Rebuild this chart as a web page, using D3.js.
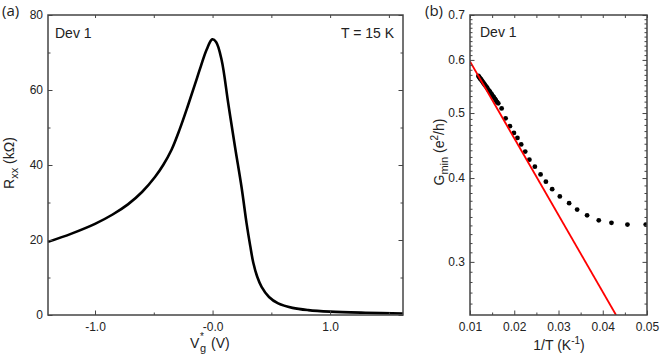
<!DOCTYPE html>
<html>
<head>
<meta charset="utf-8">
<script src="https://cdn.jsdelivr.net/npm/d3@7"></script>
<style>
  body { margin: 0; background: #fff; }
  svg { display: block; font-family: "Liberation Sans", Arial, sans-serif; }
  .tick text { fill: #222; font-size: 12px; }
  .tick line { stroke: #444; }
</style>
</head>
<body>
<div id="svganchor"></div>
<script>
let width = 664;
let height = 362;

// panel (a): Rxx vs Vg*
let vg  = [-1.40, -1.20, -1.00, -0.85, -0.72, -0.60, -0.49, -0.42, -0.35, -0.28, -0.21, -0.15, -0.10, -0.05, -0.003, 0.03, 0.077, 0.133, 0.19, 0.247, 0.289, 0.32, 0.346, 0.38, 0.417, 0.48, 0.558, 0.68, 0.814, 1.0, 1.3, 1.62];
let rxx = [19.5, 21.7, 24.3, 26.8, 29.5, 32.8, 36.8, 40.0, 44.0, 49.5, 55.8, 61.5, 66.3, 70.8, 73.5, 72.8, 68.0, 56.5, 45.0, 34.0, 24.5, 18.5, 14.0, 10.2, 7.5, 4.8, 3.1, 1.9, 1.3, 0.9, 0.6, 0.4];
let xTicksA = [-1, 0, 1];
let xTickLabelsA = ["-1.0", "-0.0", "1.0"];
let xMinorA = [-0.5, 0.5, 1.5];
let yTicksA = [0, 20, 40, 60, 80];
let yMinorA = [10, 30, 50, 70];

// panel (b): Gmin vs 1/T
let invT = [0.01190, 0.01205, 0.01220, 0.01235, 0.01250, 0.01266, 0.01282, 0.01299, 0.01316, 0.01333, 0.01351, 0.01370,
            0.01389, 0.01408, 0.01429, 0.01449, 0.01471, 0.01493, 0.01515, 0.01538, 0.01563, 0.01587, 0.01613, 0.01639,
            0.01715, 0.01805, 0.01902, 0.01993, 0.02072, 0.02157, 0.02248, 0.02342, 0.02466, 0.02595, 0.02715, 0.02857,
            0.03030, 0.03240, 0.03421, 0.03646, 0.03910, 0.04197, 0.04558, 0.04971];
let gmin = [0.568, 0.566, 0.564, 0.562, 0.561, 0.559, 0.557, 0.555, 0.553, 0.551, 0.549, 0.547,
            0.545, 0.542, 0.540, 0.538, 0.535, 0.533, 0.530, 0.528, 0.525, 0.522, 0.519, 0.517,
            0.508, 0.491, 0.478, 0.467, 0.459, 0.449, 0.438, 0.426, 0.416, 0.405, 0.395, 0.385,
            0.3755, 0.367, 0.359, 0.352, 0.346, 0.343, 0.341, 0.341];
let fitInvT = [0.010, 0.0430];
let fitG = [0.597, 0.250];
let xTicksB = [0.01, 0.02, 0.03, 0.04, 0.05];
let xMinorB = [0.015, 0.025, 0.035, 0.045];
let yTicksB = [0.3, 0.4, 0.5, 0.6, 0.7];

let svg = d3.select("#svganchor")
    .append("svg")
    .attr("width", width)
    .attr("height", height);

// draws inward ticks on all four sides plus the frame
function frame(g, x, y, xMaj, xMin, yMaj, yMin, xFmt, yFmt) {
    let [x0, x1] = x.range();
    let [y0, y1] = y.range();

    g.append("g").attr("transform", `translate(0,${y0})`)
        .call(d3.axisBottom(x).tickValues(xMaj).tickSize(-4.5).tickPadding(7).tickFormat(xFmt))
        .call(a => a.select(".domain").remove());
    g.append("g").attr("transform", `translate(0,${y0})`)
        .call(d3.axisBottom(x).tickValues(xMin).tickSize(-2.5).tickFormat(""))
        .call(a => a.select(".domain").remove());
    g.append("g").attr("transform", `translate(0,${y1})`)
        .call(d3.axisTop(x).tickValues(xMaj.concat(xMin)).tickSize(-3).tickFormat(""))
        .call(a => a.select(".domain").remove());

    g.append("g").attr("transform", `translate(${x0},0)`)
        .call(d3.axisLeft(y).tickValues(yMaj).tickSize(-4.5).tickPadding(5).tickFormat(yFmt))
        .call(a => a.select(".domain").remove());
    g.append("g").attr("transform", `translate(${x0},0)`)
        .call(d3.axisLeft(y).tickValues(yMin).tickSize(-2.5).tickFormat(""))
        .call(a => a.select(".domain").remove());
    g.append("g").attr("transform", `translate(${x1},0)`)
        .call(d3.axisRight(y).tickValues(yMaj).tickSize(-4.5).tickFormat(""))
        .call(a => a.select(".domain").remove());
    g.append("g").attr("transform", `translate(${x1},0)`)
        .call(d3.axisRight(y).tickValues(yMin).tickSize(-2.5).tickFormat(""))
        .call(a => a.select(".domain").remove());

    g.append("rect")
        .attr("x", x0).attr("y", y1)
        .attr("width", x1 - x0).attr("height", y0 - y1)
        .attr("fill", "none")
        .attr("stroke", "#444")
        .attr("stroke-width", 1.5);
}

// ---------- panel (a)
let xA = d3.scaleLinear().domain([-1.4, 1.62]).range([48, 403]);
let yA = d3.scaleLinear().domain([0, 80]).range([315, 15]);
let gA = svg.append("g");

let lineA = d3.line()
    .x((d, i) => xA(vg[i]))
    .y(d => yA(d))
    .curve(d3.curveCatmullRom.alpha(0.5));

gA.append("path")
    .datum(rxx)
    .attr("d", lineA)
    .attr("fill", "none")
    .attr("stroke", "#000")
    .attr("stroke-width", 2.6);

frame(gA, xA, yA, xTicksA, xMinorA, yTicksA, yMinorA,
    (d, i) => xTickLabelsA[i], d3.format("d"));

gA.append("text").attr("x", 55).attr("y", 38).attr("font-size", 14).attr("fill", "#222").text("Dev 1");
gA.append("text").attr("x", 394).attr("y", 38).attr("font-size", 14).attr("fill", "#222")
    .attr("text-anchor", "end").text("T = 15 K");

// x title V*g (V)
let xtA = gA.append("text").attr("y", 348).attr("font-size", 14).attr("fill", "#222");
xtA.append("tspan").attr("x", 190).text("V");
xtA.append("tspan").attr("x", 200).attr("dy", -8).attr("font-size", 10).text("*");
xtA.append("tspan").attr("x", 200).attr("dy", 12).attr("font-size", 11).text("g");
xtA.append("tspan").attr("x", 211).attr("dy", -4).text("(V)");

// y title Rxx (kΩ)
let ytA = gA.append("text")
    .attr("transform", "translate(14,163) rotate(-90)")
    .attr("text-anchor", "middle")
    .attr("font-size", 14).attr("fill", "#222");
ytA.append("tspan").text("R");
ytA.append("tspan").attr("dy", 4).attr("font-size", 11).text("xx");
ytA.append("tspan").attr("dy", -4).text(" (kΩ)");

svg.append("text").attr("x", 2).attr("y", 16)
    .attr("font-family", "'Open Sans', sans-serif").attr("font-size", 15).attr("fill", "#222").text("(a)");

// ---------- panel (b)
let xB = d3.scaleLinear().domain([0.01, 0.05]).range([470, 647]);
let yB = d3.scaleLog().domain([0.25, 0.7]).range([315, 15]);
let yMinorB = d3.range(26, 70).map(d => d / 100).filter(d => Math.round(d * 100) % 10 !== 0);
let gB = svg.append("g");

svg.append("clipPath").attr("id", "clipB")
    .append("rect").attr("x", 470).attr("y", 15).attr("width", 177).attr("height", 300);

gB.append("g").attr("clip-path", "url(#clipB)")
    .selectAll("circle")
    .data(gmin)
    .join("circle")
    .attr("cx", (d, i) => xB(invT[i]))
    .attr("cy", d => yB(d))
    .attr("r", 2.4)
    .attr("fill", "#000");

gB.append("path")
    .datum(fitG)
    .attr("clip-path", "url(#clipB)")
    .attr("d", d3.line().x((d, i) => xB(fitInvT[i])).y(d => yB(d)))
    .attr("fill", "none")
    .attr("stroke", "#f00")
    .attr("stroke-width", 1.8);

frame(gB, xB, yB, xTicksB, xMinorB, yTicksB, yMinorB,
    d3.format(".2f"), d3.format(".1f"));

gB.append("text").attr("x", 480).attr("y", 37).attr("font-size", 14).attr("fill", "#222").text("Dev 1");

let xtB = gB.append("text").attr("x", 559).attr("y", 350)
    .attr("text-anchor", "middle").attr("font-size", 14).attr("fill", "#222");
xtB.append("tspan").text("1/T (K");
xtB.append("tspan").attr("dy", -6).attr("font-size", 10).text("-1");
xtB.append("tspan").attr("dy", 6).text(")");

let ytB = gB.append("text")
    .attr("transform", "translate(444,152) rotate(-90)")
    .attr("text-anchor", "middle")
    .attr("font-size", 14).attr("fill", "#222");
ytB.append("tspan").text("G");
ytB.append("tspan").attr("dy", 4).attr("font-size", 11).text("min");
ytB.append("tspan").attr("dy", -4).text(" (e");
ytB.append("tspan").attr("dy", -6).attr("font-size", 10).text("2");
ytB.append("tspan").attr("dy", 6).text("/h)");

svg.append("text").attr("x", 425).attr("y", 16)
    .attr("font-family", "'Open Sans', sans-serif").attr("font-size", 15).attr("fill", "#222").text("(b)");
</script>
</body>
</html>
